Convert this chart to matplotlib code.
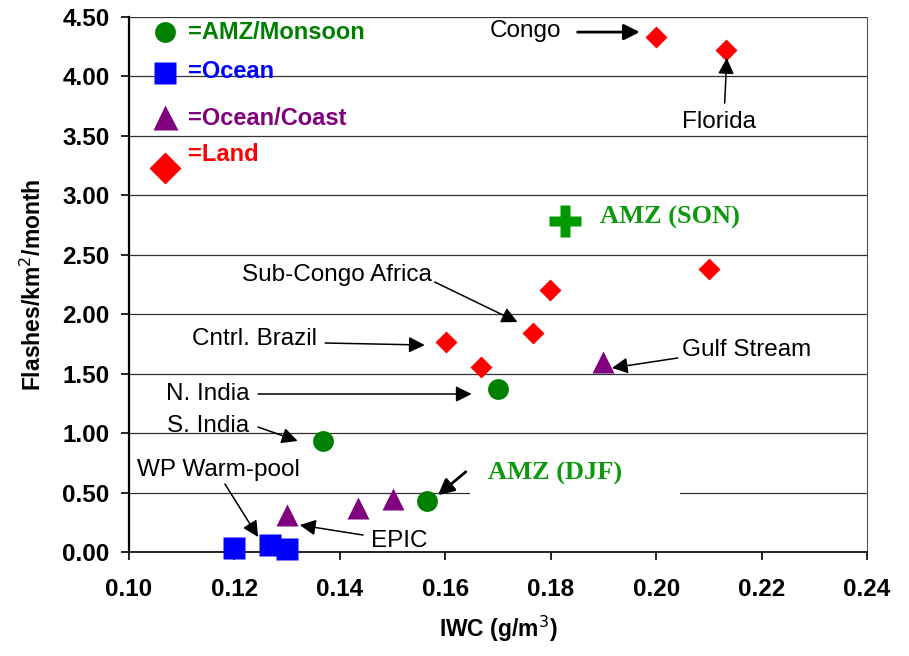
import matplotlib
matplotlib.use("Agg")
import matplotlib.pyplot as plt

plt.rcParams['font.family'] = ['Liberation Sans', 'DejaVu Sans']

# data (IWC g/m3, flashes/km2/month)
amz_x = [0.170, 0.1368, 0.1565]
amz_y = [1.37, 0.93, 0.43]

ocean_x = [0.120, 0.1267, 0.130]
ocean_y = [0.03, 0.06, 0.025]

coast_x = [0.130, 0.1434, 0.150, 0.190]
coast_y = [0.31, 0.37, 0.45, 1.60]

land_x = [0.200, 0.2132, 0.210, 0.1798, 0.1766, 0.1601, 0.1667]
land_y = [4.33, 4.22, 2.38, 2.20, 1.84, 1.77, 1.56]

son_x = [0.1827]
son_y = [2.78]

# labels: (text, text position, arrow tail, arrow tip)
labels = [
    ("Congo", (0.1753, 4.38), (0.1851, 4.373), (0.1969, 4.373)),
    ("Florida", (0.2120, 3.617), (0.2130, 3.776), (0.2134, 4.155)),
    ("Sub-Congo Africa", (0.1394, 2.33), (0.1580, 2.271), (0.1737, 1.934)),
    ("Cntrl. Brazil", (0.1239, 1.791), (0.1372, 1.758), (0.1561, 1.741)),
    ("N. India", (0.1150, 1.329), (0.1245, 1.329), (0.1650, 1.329)),
    ("S. India", (0.1150, 1.060), (0.1245, 1.051), (0.1320, 0.934)),
    ("WP Warm-pool", (0.1169, 0.690), (0.1182, 0.572), (0.1245, 0.126)),
    ("EPIC", (0.1512, 0.093), (0.1444, 0.143), (0.1324, 0.227)),
    ("Gulf Stream", (0.2172, 1.699), (0.2041, 1.632), (0.1916, 1.548)),
]

legend_names = ["=AMZ/Monsoon", "=Ocean", "=Ocean/Coast", "=Land"]
legend_colors = ["#008000", "#0000ff", "#800080", "#ff0000"]
legend_markers = ["o", "s", "^", "D"]
legend_sizes = [15, 16, 18, 16]
legend_marker_y = [4.373, 4.03, 3.66, 3.23]
legend_text_y = [4.37, 4.04, 3.65, 3.34]

fig = plt.figure(figsize=(9.09, 6.56), dpi=100)
ax = fig.add_axes([0.1419, 0.1585, 0.9538 - 0.1419, 0.9741 - 0.1585])

ax.plot(amz_x, amz_y, 'o', color='#008000', ms=15, mec='none', zorder=3, clip_on=False)
ax.plot(ocean_x, ocean_y, 's', color='#0000ff', ms=15.5, mec='none', zorder=3, clip_on=False)
ax.plot(coast_x, coast_y, '^', color='#800080', ms=15.5, mec='none', zorder=3, clip_on=False)
ax.plot(land_x, land_y, 'D', color='#ff0000', ms=10.7, mec='none', zorder=3, clip_on=False)
ax.plot(son_x, son_y, 'P', color='#009900', ms=23, mec='none', zorder=3, clip_on=False)

ax.text(0.1893, 2.81, "AMZ (SON)", color='#0d990d', fontsize=19, fontweight='bold',
        family='Liberation Serif', va='center', ha='left')
ax.text(0.1681, 0.664, "AMZ (DJF)      ", color='#0d990d', fontsize=19, fontweight='bold',
        family='Liberation Serif', va='center', ha='left', zorder=2,
        bbox=dict(boxstyle='square,pad=0.7', fc='white', ec='none'))
ax.annotate("", xy=(0.1582, 0.463), xytext=(0.1643, 0.690),
            arrowprops=dict(arrowstyle='-|>', color='black', lw=2, mutation_scale=24), zorder=4)

for txt, tpos, tail, tip in labels:
    ax.text(tpos[0], tpos[1], txt, fontsize=17.5, ha='center', va='center')
    lw = 2 if txt == "Congo" else 1.1
    ax.annotate("", xy=tip, xytext=tail,
                arrowprops=dict(arrowstyle='-|>', color='black', lw=lw, mutation_scale=24,
                                shrinkA=0, shrinkB=0), zorder=4)

for name, col, mk, sz, my, ty in zip(legend_names, legend_colors, legend_markers,
                                      legend_sizes, legend_marker_y, legend_text_y):
    ax.plot([0.1068], [my], mk, color=col, ms=sz, mec='none', clip_on=False)
    ax.text(0.1112, ty, name, color=col, fontsize=17, fontweight='bold', va='center', ha='left')

ax.set_xlim(0.10, 0.24)
ax.set_ylim(0, 4.5)
ax.set_xticks([0.10, 0.12, 0.14, 0.16, 0.18, 0.20, 0.22, 0.24])
ax.set_yticks([0, 0.5, 1.0, 1.5, 2.0, 2.5, 3.0, 3.5, 4.0, 4.5])
ax.xaxis.set_major_formatter(matplotlib.ticker.FormatStrFormatter('%.2f'))
ax.yaxis.set_major_formatter(matplotlib.ticker.FormatStrFormatter('%.2f'))
ax.yaxis.grid(True, color='#333333', lw=0.9)
ax.set_axisbelow(True)
ax.tick_params(axis='both', direction='out', length=6, width=1.2, labelsize=17.5)
ax.tick_params(axis='x', pad=13)
ax.tick_params(axis='y', pad=8)
for lab in ax.get_xticklabels() + ax.get_yticklabels():
    lab.set_fontweight('bold')

ax.spines['top'].set_visible(False)
ax.spines['left'].set_linewidth(1.6)
ax.spines['bottom'].set_linewidth(1.2)
ax.spines['right'].set_color('#555555')

ax.set_xlabel("IWC (g/m$^3$)", fontsize=16.5, fontweight='bold', labelpad=9)
ax.set_ylabel("Flashes/km$^2$/month", fontsize=16.5, fontweight='bold', labelpad=12)

fig.savefig("out.png", dpi=100)
